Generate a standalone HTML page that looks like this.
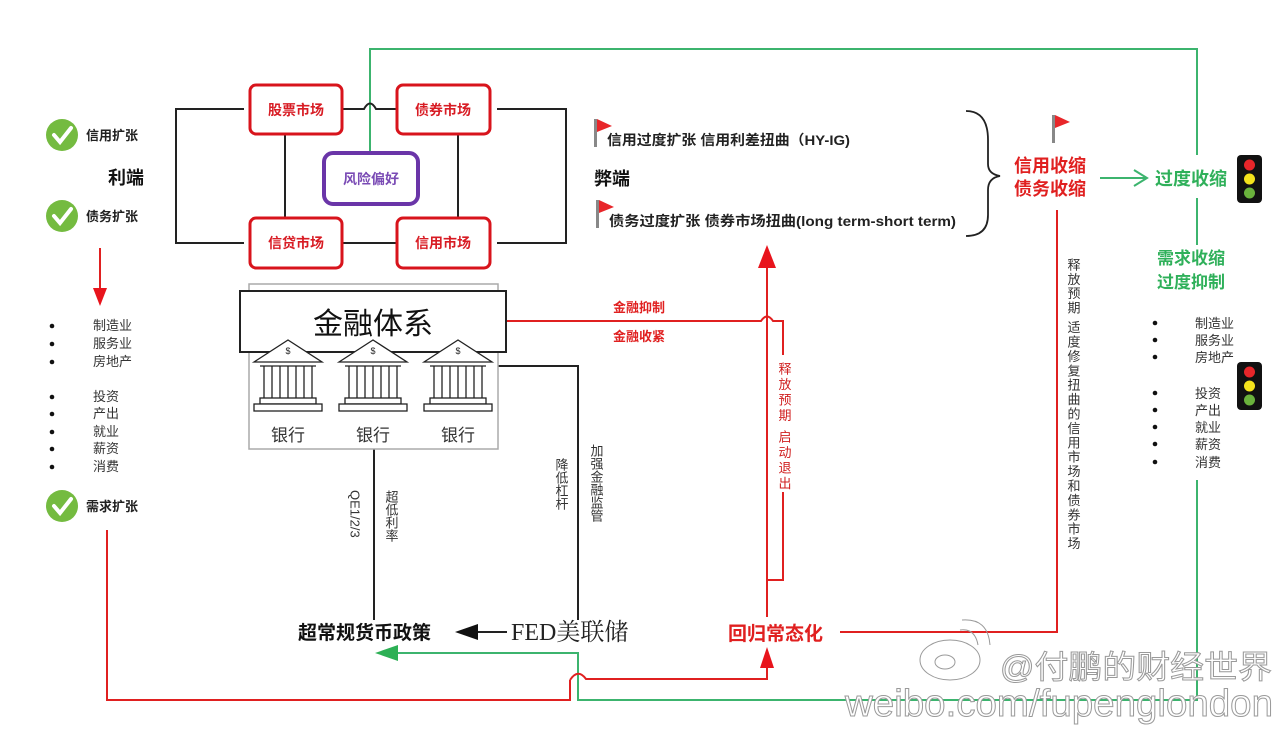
<!DOCTYPE html>
<html><head><meta charset="utf-8"><style>
html,body{margin:0;padding:0;background:#fff;}
svg{display:block;font-family:"Liberation Sans","Noto Sans CJK SC",sans-serif;}
.v{writing-mode:vertical-rl;}
</style></head><body>
<svg width="1280" height="729" viewBox="0 0 1280 729" xmlns="http://www.w3.org/2000/svg">
<defs>
<g id="bank" fill="none" stroke="#222" stroke-width="1.3">
<polygon points="-34,20 0,-2 34,20" fill="#fff"/>
<text x="0" y="12" font-size="9" text-anchor="middle" fill="#222" stroke="none">$</text>
<line x1="-28" y1="24" x2="28" y2="24"/>
<line x1="-24" y1="24" x2="-24" y2="56"/><line x1="-16" y1="24" x2="-16" y2="56"/><line x1="-8" y1="24" x2="-8" y2="56"/><line x1="0" y1="24" x2="0" y2="56"/><line x1="8" y1="24" x2="8" y2="56"/><line x1="16" y1="24" x2="16" y2="56"/><line x1="24" y1="24" x2="24" y2="56"/>
<rect x="-28" y="56" width="56" height="6" fill="#fff"/>
<rect x="-34" y="62" width="68" height="7" fill="#fff"/>
</g>
<g id="tl"><rect x="0" y="0" width="25" height="48" rx="4" fill="#111"/><circle cx="12.5" cy="10" r="5.5" fill="#e8262a"/><circle cx="12.5" cy="24" r="5.5" fill="#f3e21c"/><circle cx="12.5" cy="38" r="5.5" fill="#6ab23c"/></g>
<g id="chk"><circle cx="0" cy="0" r="16" fill="#74bb40"/><path d="M-8,0 L-2,7 L9,-7" fill="none" stroke="#fff" stroke-width="4" stroke-linecap="round"/></g>
<g id="flag"><rect x="0" y="0" width="3" height="28" fill="#888"/><polygon points="3,0 18,7 3,13" fill="#e8262a"/></g>
</defs>

<!-- green loop -->
<g stroke="#3cb46e" stroke-width="2" fill="none">
<polyline points="370,152 370,49 1197,49 1197,155"/>
<line x1="1197" y1="198" x2="1197" y2="245"/>
<polyline points="1197,480 1197,700 578,700 578,653 390,653"/>
<polyline points="1100,178 1146,178"/>
<polyline points="1134,170 1147,178 1134,186"/>
</g>
<polygon points="375,653 398,645 398,661" fill="#2db055"/>

<!-- black connectors -->
<g stroke="#222" stroke-width="2" fill="none">
<polyline points="244,109 176,109 176,243 244,243"/>
<polyline points="497,109 566,109 566,243 497,243"/>
<path d="M342,109 L364,109 Q370,98 376,109 L397,109"/>
<line x1="342" y1="243" x2="397" y2="243"/>
<line x1="285" y1="134" x2="285" y2="218"/>
<line x1="458" y1="134" x2="458" y2="218"/>
<line x1="374" y1="449" x2="374" y2="620"/>
<polyline points="498,366 578,366 578,620"/>
<line x1="507" y1="632" x2="478" y2="632"/>
</g>
<polygon points="455,632 478,624 478,640" fill="#111"/>

<!-- red lines -->
<g stroke="#e02020" stroke-width="2" fill="none">
<polyline points="107,530 107,700 570,700 570,680"/>
<path d="M570,680 Q578,668 586,679 L767,679 L767,668"/>
<path d="M506,321 L761,321 Q767,312 773,321 L783,321 L783,355"/>
<polyline points="783,492 783,580 767,580"/>
<line x1="767" y1="617" x2="767" y2="268"/>
<line x1="100" y1="248" x2="100" y2="290"/>
<polyline points="840,632 1057,632 1057,210"/>
</g>
<polygon points="767,245 758,268 776,268" fill="#e8141c"/>
<polygon points="767,647 760,668 774,668" fill="#e8141c"/>
<polygon points="100,306 93,288 107,288" fill="#e8141c"/>

<!-- market boxes -->
<g fill="#fff" stroke="#d8141c" stroke-width="3">
<rect x="250" y="85" width="92" height="49" rx="6"/>
<rect x="397" y="85" width="93" height="49" rx="6"/>
<rect x="250" y="218" width="92" height="50" rx="6"/>
<rect x="397" y="218" width="93" height="50" rx="6"/>
</g>
<rect x="324" y="153" width="94" height="51" rx="9" fill="#fff" stroke="#6a35a8" stroke-width="4"/>
<g font-size="14" font-weight="bold" fill="#d81c24" text-anchor="middle">
<text x="296" y="115">股票市场</text><text x="443" y="115">债券市场</text>
<text x="296" y="248">信贷市场</text><text x="443" y="248">信用市场</text>
</g>
<text x="371" y="184" font-size="14" font-weight="bold" fill="#7a4bb5" text-anchor="middle">风险偏好</text>

<!-- financial system -->
<rect x="249" y="284" width="249" height="165" fill="#fff" stroke="#aaa" stroke-width="1.5"/>
<rect x="240" y="291" width="266" height="61" fill="#fff" stroke="#222" stroke-width="2"/>
<text x="373" y="334" font-size="30" text-anchor="middle" fill="#111">金融体系</text>
<use href="#bank" x="288" y="342"/><use href="#bank" x="373" y="342"/><use href="#bank" x="458" y="342"/>
<g font-size="17" fill="#333" text-anchor="middle"><text x="288" y="441">银行</text><text x="373" y="441">银行</text><text x="458" y="441">银行</text></g>

<!-- left side -->
<use href="#chk" x="62" y="135"/><use href="#chk" x="62" y="216"/><use href="#chk" x="62" y="506"/>
<g font-size="13" font-weight="bold" fill="#222">
<text x="86" y="140">信用扩张</text><text x="86" y="221">债务扩张</text><text x="86" y="511">需求扩张</text>
</g>
<text x="108" y="184" font-size="18" font-weight="bold" fill="#111">利端</text>
<g font-size="13" fill="#333">
<text x="93" y="330">制造业</text><text x="93" y="348">服务业</text><text x="93" y="366">房地产</text>
<text x="93" y="401">投资</text><text x="93" y="418">产出</text><text x="93" y="436">就业</text><text x="93" y="453">薪资</text><text x="93" y="471">消费</text>
</g>
<g fill="#111"><circle cx="52" cy="326" r="2.3"/><circle cx="52" cy="344" r="2.3"/><circle cx="52" cy="362" r="2.3"/><circle cx="52" cy="397" r="2.3"/><circle cx="52" cy="414" r="2.3"/><circle cx="52" cy="432" r="2.3"/><circle cx="52" cy="449" r="2.3"/><circle cx="52" cy="467" r="2.3"/></g>

<!-- right text -->
<use href="#flag" x="594" y="119"/><use href="#flag" x="596" y="200"/><use href="#flag" x="1052" y="115"/>
<g font-size="14" font-weight="bold" fill="#222">
<text x="607" y="145" textLength="243" lengthAdjust="spacingAndGlyphs">信用过度扩张  信用利差扭曲（HY-IG)</text>
<text x="609" y="226" textLength="347" lengthAdjust="spacingAndGlyphs">债务过度扩张  债券市场扭曲(long term-short term)</text>
</g>
<text x="594" y="185" font-size="18" font-weight="bold" fill="#111">弊端</text>
<path d="M966,111 Q988,111 988,140 L988,164 Q988,174 1000,176 Q988,178 988,190 L988,215 Q988,236 966,236" fill="none" stroke="#222" stroke-width="1.8"/>
<g font-size="18" font-weight="bold" fill="#e02020"><text x="1014" y="172">信用收缩</text><text x="1014" y="195">债务收缩</text></g>
<text x="1155" y="185" font-size="18" font-weight="bold" fill="#2fb05a">过度收缩</text>
<use href="#tl" x="1237" y="155"/><use href="#tl" x="1237" y="362"/>
<g font-size="17" font-weight="bold" fill="#2fb05a"><text x="1157" y="264">需求收缩</text><text x="1157" y="288">过度抑制</text></g>
<g font-size="13" fill="#333">
<text x="1195" y="328">制造业</text><text x="1195" y="345">服务业</text><text x="1195" y="362">房地产</text>
<text x="1195" y="398">投资</text><text x="1195" y="415">产出</text><text x="1195" y="432">就业</text><text x="1195" y="449">薪资</text><text x="1195" y="467">消费</text>
</g>
<g fill="#111"><circle cx="1155" cy="323" r="2.3"/><circle cx="1155" cy="340" r="2.3"/><circle cx="1155" cy="357" r="2.3"/><circle cx="1155" cy="393" r="2.3"/><circle cx="1155" cy="410" r="2.3"/><circle cx="1155" cy="427" r="2.3"/><circle cx="1155" cy="444" r="2.3"/><circle cx="1155" cy="462" r="2.3"/></g>

<g font-size="13" font-weight="bold" fill="#e02020"><text x="613" y="312">金融抑制</text><text x="613" y="341">金融收紧</text></g>

<!-- vertical labels -->
<text x="1073" y="258" class="v" font-size="13" fill="#333" letter-spacing="1.4">释放预期 适度修复扭曲的信用市场和债券市场</text>
<text x="784" y="362" class="v" font-size="13" fill="#d02020" letter-spacing="2.5">释放预期 启动退出</text>
<text x="355" y="490" class="v" font-size="13" fill="#333">QE1/2/3</text>
<text x="391" y="490" class="v" font-size="13" fill="#333">超低利率</text>
<text x="561" y="458" class="v" font-size="13" fill="#333">降低杠杆</text>
<text x="596" y="444" class="v" font-size="13" fill="#333">加强金融监管</text>

<!-- bottom labels -->
<text x="298" y="639" font-size="19" font-weight="bold" fill="#111">超常规货币政策</text>
<text x="511" y="640" font-size="24" fill="#222" font-family="Liberation Serif,Noto Serif CJK SC,serif">FED美联储</text>
<text x="728" y="640" font-size="19" font-weight="bold" fill="#e02020">回归常态化</text>

<!-- watermark -->
<g fill="#fff" stroke="#9a9a9a" stroke-width="1">
<ellipse cx="950" cy="660" rx="30" ry="20"/>
<ellipse cx="945" cy="662" rx="10" ry="7"/>
<path d="M960,630 Q975,628 978,645" fill="none"/><path d="M962,620 Q988,618 990,645" fill="none"/>
<text x="1000" y="678" font-size="32" textLength="272" lengthAdjust="spacingAndGlyphs">@付鹏的财经世界</text>
<text x="845" y="716" font-size="38" textLength="428" lengthAdjust="spacingAndGlyphs">weibo.com/fupenglondon</text>
</g>
</svg>
</body></html>
